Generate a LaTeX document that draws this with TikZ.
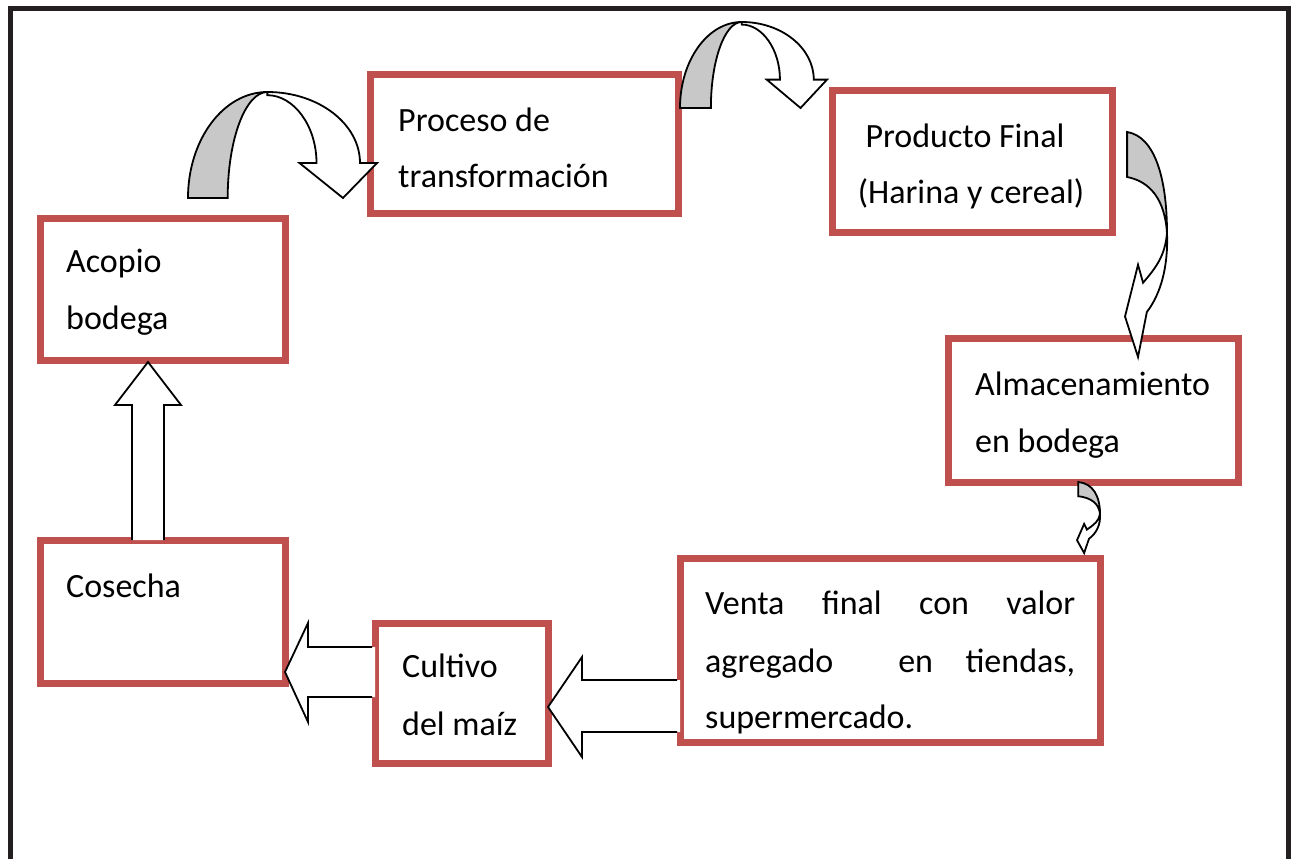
\documentclass[tikz,border=0pt]{standalone}
\usepackage{fontspec}
\setmainfont{Carlito}
\definecolor{boxred}{RGB}{192,80,77}
\definecolor{framegray}{RGB}{35,31,32}
\definecolor{bandgray}{RGB}{200,200,200}
\begin{document}
\begin{tikzpicture}[x=1pt,y=-1pt,
  box/.style={draw=boxred, line width=7pt, fill=white, inner sep=0pt, rectangle},
  lbl/.style={anchor=base west, inner sep=0pt, font=\fontsize{34}{57}\selectfont},
  blk/.style={draw=black, line width=1.8pt, fill=white, line join=miter},
  backband/.style={draw=black, line width=1.8pt, fill=bandgray},
  cdown/.pic={
    \draw[backband] (0,0) .. controls (0,0.552) and (0.188,1) .. (0.42,1)
       .. controls (0.304,1) and (0.21,0.552) .. (0.21,0) -- cycle;
    \draw[blk] (0.42,1) .. controls (0.69,1) and (0.91,0.70) .. (0.91,0.33)
       -- (1,0.33) -- (0.82,0) -- (0.59,0.33) -- (0.68,0.33)
       .. controls (0.68,0.68) and (0.56,0.97) .. (0.42,0.97) -- cycle;
  },
  cright/.pic={
    \draw[backband] (0.05,0) .. controls (0.7,0.02) and (1,0.2) .. (1,0.45)
       .. controls (0.95,0.3) and (0.6,0.22) .. (0.05,0.2) -- cycle;
    \draw[blk] (1,0.45) .. controls (1.03,0.6) and (0.85,0.72) .. (0.52,0.8)
       -- (0.31,1) -- (0,0.82) -- (0.31,0.59) -- (0.43,0.67)
       .. controls (0.75,0.6) and (0.95,0.55) .. (1,0.45) -- cycle;
  }]
\useasboundingbox (0,0) rectangle (1293,859);
\clip (0,0) rectangle (1293,859);
\fill[white] (0,0) rectangle (1293,859);
% outer frame (open at the bottom)
\draw[line width=5pt, draw=framegray] (10,900) -- (10,9) -- (1288,9) -- (1288,900);

% boxes
\node[box, minimum width=245pt, minimum height=142pt] (acopio) at (162.5,289) {};
\node[box, minimum width=308pt, minimum height=138pt] (proceso) at (524,144) {};
\node[box, minimum width=280pt, minimum height=142pt] (producto) at (972,161) {};
\node[box, minimum width=290pt, minimum height=144pt] (almacen) at (1093,410) {};
\node[box, minimum width=420pt, minimum height=184pt] (venta) at (890,650) {};
\node[box, minimum width=173pt, minimum height=140pt] (cultivo) at (461.5,693) {};
\node[box, minimum width=245pt, minimum height=143pt] (cosecha) at (162.5,611.5) {};

% texts
\node[lbl] (tacopioA) at (66,272) {Acopio};
\node[lbl] (tacopioB) at (66,329) {bodega};
\node[lbl] (tprocA) at (398,131) {Proceso de};
\node[lbl] (tprocB) at (398,187) {transformación};
\node[lbl, anchor=base] (tprodA) at (965,147) {Producto Final};
\node[lbl, anchor=base] (tprodB) at (971,203) {(Harina y cereal)};
\node[lbl] (talmA) at (975,395) {Almacenamiento};
\node[lbl] (talmB) at (975,452) {en bodega};
\node[lbl] (tventaA) at (705,614) {\hbox to 370pt{Venta\hfill final\hfill con\hfill valor}};
\node[lbl] (tventaB) at (705,672) {\hbox to 370pt{agregado\hfill\hfill en\hfill tiendas,}};
\node[lbl] (tventaC) at (705,728) {supermercado.};
\node[lbl] (tcultA) at (402,677) {Cultivo};
\node[lbl] (tcultB) at (402,735) {del maíz};
\node[lbl] (tcosA) at (66,597) {Cosecha};

% straight block arrows
\fill[white] (132,540) -- (132,405) -- (115,405) -- (148,362) -- (181,405) -- (164,405) -- (164,540) -- cycle;
\draw[blk, fill=none] (132,540) -- (132,405) -- (115,405) -- (148,362) -- (181,405) -- (164,405) -- (164,540);

\fill[white] (375,647) -- (308,647) -- (308,623) -- (285,672) -- (308,722) -- (308,697) -- (375,697) -- cycle;
\draw[blk, fill=none] (372,647) -- (308,647) -- (308,623) -- (285,672) -- (308,722) -- (308,697) -- (372,697);

\fill[white] (680,680) -- (582,680) -- (582,657) -- (548,707) -- (582,757) -- (582,732) -- (680,732) -- cycle;
\draw[blk, fill=none] (677,680) -- (582,680) -- (582,657) -- (548,707) -- (582,757) -- (582,732) -- (677,732);

% curved block arrows
\pic[xscale=189, yscale=-106] (arcA) at (188,198) {cdown};
\pic[xscale=147, yscale=-86] (arcB) at (680,108) {cdown};
\pic[xscale=42, yscale=225] (arcC) at (1125,132) {cright};
\pic[xscale=23, yscale=71] (arcD) at (1077,482) {cright};
\end{tikzpicture}
\end{document}
